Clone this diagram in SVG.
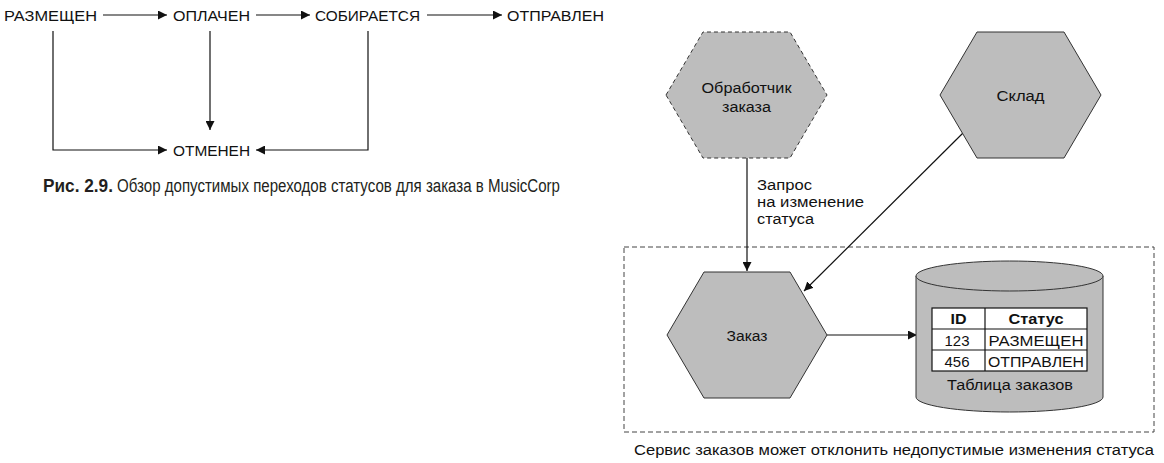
<svg xmlns="http://www.w3.org/2000/svg" width="1164" height="463" viewBox="0 0 1164 463">
<defs>
<style>
.t{font-family:"Liberation Sans",Arial,sans-serif;font-size:14.5px;fill:#111}
.r{font-family:"Liberation Sans",Arial,sans-serif;font-size:15.5px;fill:#111}
.tb{font-family:"Liberation Sans",Arial,sans-serif;font-size:15.5px;font-weight:bold;fill:#111}
.cap{font-family:"Liberation Sans Narrow","Liberation Sans",Arial,sans-serif;font-size:18px;fill:#231f20}
.ln{stroke:#111;stroke-width:1.2;fill:none}
.hex{fill:#bdbdbd;stroke:#333;stroke-width:1}
.dash{stroke-dasharray:4 3}
</style>
<marker id="ah" viewBox="0 0 10 10" refX="10" refY="5" markerWidth="9" markerHeight="9" markerUnits="userSpaceOnUse" orient="auto">
<path d="M0,0 L10,5 L0,10 Z" fill="#111"/>
</marker>
</defs>
<rect width="1164" height="463" fill="#fff"/>

<!-- Left: state transitions -->
<g id="connectors-left">
<line class="ln" x1="103" y1="15" x2="167" y2="15" marker-end="url(#ah)"/>
<line class="ln" x1="256" y1="15" x2="310" y2="15" marker-end="url(#ah)"/>
<line class="ln" x1="427" y1="15" x2="502" y2="15" marker-end="url(#ah)"/>
<polyline class="ln" points="53,31 53,150 167,150" marker-end="url(#ah)"/>
<line class="ln" x1="210" y1="31" x2="210" y2="130" marker-end="url(#ah)"/>
<polyline class="ln" points="368,31 368,150 256,150" marker-end="url(#ah)"/>
</g>
<g id="s-placed"><text class="t" x="4" y="20.5" textLength="93" lengthAdjust="spacingAndGlyphs">РАЗМЕЩЕН</text></g>
<g id="s-paid"><text class="t" x="173" y="20.5" textLength="77" lengthAdjust="spacingAndGlyphs">ОПЛАЧЕН</text></g>
<g id="s-picking"><text class="t" x="315" y="20.5" textLength="105" lengthAdjust="spacingAndGlyphs">СОБИРАЕТСЯ</text></g>
<g id="s-shipped"><text class="t" x="507" y="20.5" textLength="97" lengthAdjust="spacingAndGlyphs">ОТПРАВЛЕН</text></g>
<g id="s-cancelled"><text class="t" x="173" y="155.5" textLength="77" lengthAdjust="spacingAndGlyphs">ОТМЕНЕН</text></g>
<g id="caption-left">
<text class="cap" y="191.5"><tspan x="43" font-weight="bold" textLength="70" lengthAdjust="spacingAndGlyphs">Рис. 2.9.</tspan><tspan x="117" textLength="443" lengthAdjust="spacingAndGlyphs">Обзор допустимых переходов статусов для заказа в MusicCorp</tspan></text>
</g>

<!-- Right: service diagram -->
<g id="service-boundary">
<rect x="624" y="247" width="530" height="185" fill="none" stroke="#444" stroke-width="1" stroke-dasharray="5 3"/>
<text class="r" x="634" y="455" textLength="520" lengthAdjust="spacingAndGlyphs">Сервис заказов может отклонить недопустимые изменения статуса</text>
</g>

<g id="connectors">
<line class="ln" x1="747" y1="158" x2="747" y2="271" marker-end="url(#ah)"/>
<line class="ln" x1="963" y1="133" x2="804" y2="291" marker-end="url(#ah)"/>
<line class="ln" x1="827" y1="335" x2="917" y2="335" marker-end="url(#ah)"/>
<text class="r" x="757" y="189.5" textLength="55" lengthAdjust="spacingAndGlyphs">Запрос</text>
<text class="r" x="757" y="206.5" textLength="107" lengthAdjust="spacingAndGlyphs">на изменение</text>
<text class="r" x="757" y="223.5" textLength="57" lengthAdjust="spacingAndGlyphs">статуса</text>
</g>

<g id="order-processor">
<polygon class="hex dash" points="666,95 703,32 790,32 827,95 790,158 703,158"/>
<text class="r" x="746.5" y="93" text-anchor="middle" textLength="90" lengthAdjust="spacingAndGlyphs">Обработчик</text>
<text class="r" x="746.5" y="112" text-anchor="middle" textLength="49" lengthAdjust="spacingAndGlyphs">заказа</text>
</g>

<g id="warehouse">
<polygon class="hex" points="940,95 977,32 1064,32 1101,95 1064,158 977,158"/>
<text class="r" x="1020.5" y="101" text-anchor="middle" textLength="48" lengthAdjust="spacingAndGlyphs">Склад</text>
</g>

<g id="order">
<polygon class="hex" points="667,335 704,272 790,272 827,335 790,398 704,398"/>
<text class="r" x="747" y="340.5" text-anchor="middle" textLength="41" lengthAdjust="spacingAndGlyphs">Заказ</text>
</g>

<g id="orders-table">
<path d="M916,276 L916,397 A93.5,15 0 0 0 1103,397 L1103,276" fill="#bdbdbd" stroke="#333" stroke-width="1"/>
<ellipse cx="1009.5" cy="276" rx="93.5" ry="15" fill="#bdbdbd" stroke="#333" stroke-width="1"/>
<rect x="932" y="308" width="155" height="63" fill="#fff" stroke="#111" stroke-width="1.2"/>
<line class="ln" x1="932" y1="329" x2="1087" y2="329"/>
<line class="ln" x1="932" y1="350" x2="1087" y2="350"/>
<line class="ln" x1="985" y1="308" x2="985" y2="371"/>
<text class="tb" x="958.5" y="324" text-anchor="middle" textLength="16" lengthAdjust="spacingAndGlyphs">ID</text>
<text class="tb" x="1036" y="324" text-anchor="middle" textLength="55" lengthAdjust="spacingAndGlyphs">Статус</text>
<text class="r" x="957" y="345.5" text-anchor="middle" textLength="25" lengthAdjust="spacingAndGlyphs">123</text>
<text class="r" x="1036" y="345.5" text-anchor="middle" textLength="95" lengthAdjust="spacingAndGlyphs">РАЗМЕЩЕН</text>
<text class="r" x="957" y="366.5" text-anchor="middle" textLength="25" lengthAdjust="spacingAndGlyphs">456</text>
<text class="r" x="1036" y="366.5" text-anchor="middle" textLength="96" lengthAdjust="spacingAndGlyphs">ОТПРАВЛЕН</text>
<text class="r" x="1010" y="390" text-anchor="middle" textLength="126" lengthAdjust="spacingAndGlyphs">Таблица заказов</text>
</g>
</svg>
